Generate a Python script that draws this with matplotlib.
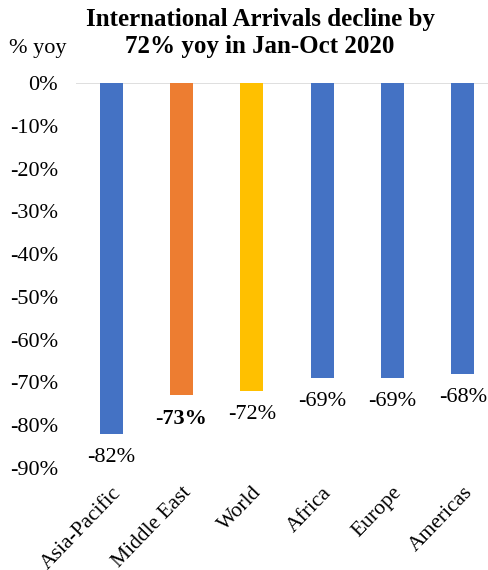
import matplotlib
matplotlib.use('Agg')
import matplotlib.pyplot as plt

plt.rcParams['font.family'] = ['Liberation Serif', 'DejaVu Serif']

# Jan-Oct 2020 international arrivals, % change yoy
regions = ['Asia-Pacific', 'Middle East', 'World', 'Africa', 'Europe', 'Americas']
change = [-82, -73, -72, -69, -69, -68]
colors = ['#4472C4', '#ED7D31', '#FFC000', '#4472C4', '#4472C4', '#4472C4']
bold_label = [False, True, False, False, False, False]

fig = plt.figure(figsize=(4.89, 5.70), dpi=100)
W, H = 489, 570
# axes box in pixels: left 76, right 498, top 83, bottom 468
ax = fig.add_axes([76 / W, 1 - 468 / H, (498 - 76) / W, (468 - 83) / H])

x = range(len(regions))
ax.bar(x, change, width=0.33, color=colors, zorder=2)
ax.axhline(0, color='#D9D9D9', linewidth=1.2, zorder=1)

for i, v in enumerate(change):
    ax.annotate('%d%%' % v, (i, v), xytext=(0, -14), textcoords='offset pixels',
                ha='center', va='top', fontsize=16,
                fontweight='bold' if bold_label[i] else 'normal')

ax.set_xlim(-0.5, 5.5)
ax.set_ylim(-90, 0)
ax.set_yticks(range(-90, 1, 10))
ax.set_yticklabels(['%d%%' % t for t in range(-90, 1, 10)], fontsize=16)
ax.set_xticks(list(x))
ax.set_xticklabels(regions, rotation=46, ha='right', rotation_mode='anchor', fontsize=15.5)
ax.tick_params(axis='both', length=0)
ax.tick_params(axis='y', pad=13)
ax.tick_params(axis='x', pad=11)
for s in ax.spines.values():
    s.set_visible(False)

fig.text(260 / W, 1 - 33 / H, 'International Arrivals decline by\n72% yoy in Jan-Oct 2020',
         ha='center', va='center', fontsize=18, fontweight='bold', linespacing=1.25)
fig.text(38 / W, 1 - 48 / H, '% yoy', ha='center', va='center', fontsize=16)

fig.savefig('out.png', dpi=100)
